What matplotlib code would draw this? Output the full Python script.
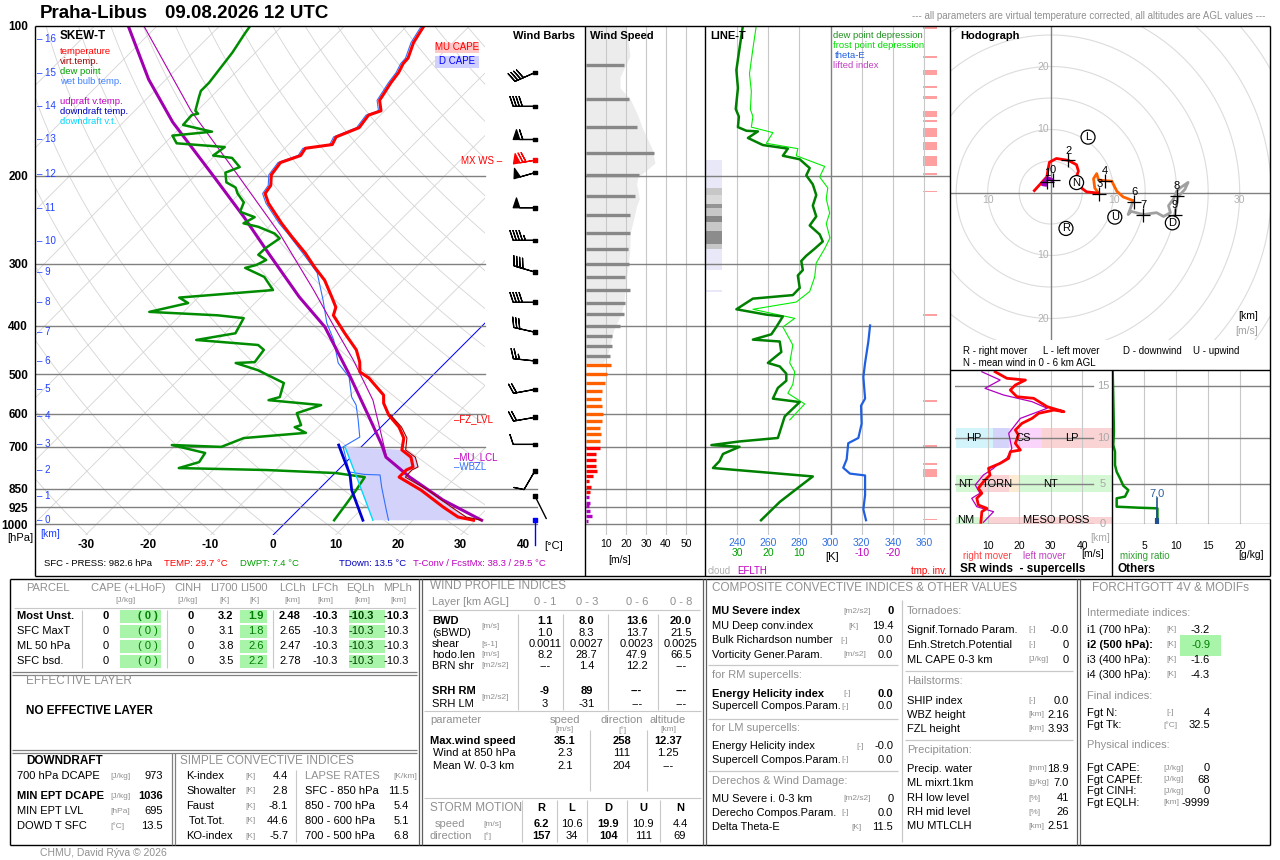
import numpy as np
import matplotlib

matplotlib.use("Agg")
import matplotlib.pyplot as plt
from matplotlib.patches import Rectangle
from matplotlib.ticker import NullLocator

plt.rcParams["font.family"] = ["Liberation Sans", "DejaVu Sans"]

W, H = 1280, 860

# ---------------------------------------------------------------- data
# height above ground [km] -> pressure [hPa]
KM_LEVELS = list(range(17))
KM_PRESS = [982.6, 879, 779, 691, 607, 536, 471, 412, 358, 312, 270, 232, 198, 169, 145, 124, 106]

PRESS_TICKS = [100, 200, 300, 400, 500, 600, 700, 850, 925, 1000]
TEMP_TICKS = [-30, -20, -10, 0, 10, 20, 30, 40]

# environment temperature
TEMP_P = [982.6, 968, 924, 855, 805, 779, 768, 734, 710, 672, 639, 604, 572, 551, 509, 495, 473,
          447, 414, 381, 367, 350, 324, 305, 286, 265, 249, 227, 217, 209, 199, 188, 182, 176,
          173, 167, 160, 151, 148, 141, 130, 124, 119, 116, 108, 100]
TEMP_C = [29.7, 26.7, 22.7, 16.5, 10.9, 10.9, 11.5, 9.6, 7.0, 5.4, 2.9, -0.7, -3.4, -4.7, -9.8,
          -12.2, -13.8, -16.3, -20.8, -25.5, -26.4, -28.7, -32.5, -36.2, -39.9, -44.7, -48.5,
          -53.8, -55.9, -56.3, -57.9, -58.4, -56.3, -56.7, -53.0, -53.6, -51.4, -51.9, -50.6,
          -52.5, -53.5, -53.9, -54.6, -54.7, -56.3, -57.3]

# virtual temperature (lower part, where it separates from T)
VIRT_P = [982.6, 968, 924, 855, 805, 779, 768, 734, 710, 672, 639, 604]
VIRT_C = [31.0, 28.0, 24.0, 17.6, 11.9, 11.8, 12.3, 10.3, 7.6, 5.9, 3.3, -0.4]

# dew point
DEW_P = [982.6, 908, 855, 805, 790, 779, 772, 751, 720, 694, 700, 672, 656, 639, 633, 599, 577,
         564, 556, 521, 491, 475, 473, 447, 437, 427, 414, 386, 381, 375, 360, 351, 339, 319,
         306, 302, 295, 288, 279, 267, 261, 253, 249, 242, 236, 226, 217, 211, 206, 197, 192,
         184, 182, 175, 172, 166, 163, 158, 151, 150, 148, 139, 135, 130, 122, 113, 104, 100]
DEW_C = [7.4, 6.7, 6.1, 5.4, 0.1, -11.5, -25.8, -23.5, -24.0, -30.6, -22.4, -20.2, -11.1, -13.8,
         -13.1, -15.7, -13.1, -22.3, -21.0, -22.6, -28.8, -33.5, -30.6, -31.1, -32.8, -43.5,
         -38.3, -39.4, -44.0, -55.5, -50.7, -53.0, -39.2, -42.7, -47.2, -45.9, -45.1, -47.2,
         -47.1, -46.4, -48.0, -51.7, -54.6, -53.8, -57.0, -57.9, -60.3, -61.6, -63.9, -65.6,
         -64.2, -66.9, -70.3, -69.8, -78.1, -80.0, -74.3, -80.0, -80.2, -79.4, -80.3, -81.9,
         -82.6, -82.6, -83.1, -83.7, -84.7, -85.1]

# wet bulb temperature
WETB_P = [982.6, 937, 843, 797, 795, 786, 700, 669, 618, 577, 556, 507, 475, 427, 395, 355, 313,
          286, 261, 249, 227, 217, 209, 199, 188, 182, 176, 173, 167, 160, 151, 148, 141, 130,
          124, 119, 116, 108, 100]
WETB_C = [16.1, 14.1, 9.7, 7.5, 4.9, 2.1, -2.9, -1.8, -4.8, -7.5, -9.5, -13.1, -17.1, -21.5,
          -25.3, -29.6, -34.9, -40.3, -45.9, -48.9, -54.2, -56.3, -56.7, -58.3, -58.8, -56.7,
          -57.1, -53.4, -54.0, -51.8, -52.3, -51.0, -52.9, -53.9, -54.3, -55.0, -55.1, -56.7,
          -57.7]

# updraft parcel
UP_P = [982.6, 895, 805, 734, 694, 610, 498, 402, 350, 286, 242, 201, 156, 128, 100]
UP_C = [31.0, 21.6, 12.6, 5.6, 3.0, -3.5, -13.8, -25.0, -33.9, -45.8, -55.5, -66.7, -82.1,
        -92.8, -104.6]
UPV_P = [734, 727, 647, 564, 469, 402, 339, 261, 197, 148, 100]
UPV_C = [5.6, 5.3, 0.3, -5.6, -15.1, -23.5, -32.7, -47.2, -63.9, -81.0, -102.1]

# downdraft
DOWN_P = [694, 797, 855, 982.6]
DOWN_C = [-3.9, 2.7, 5.4, 12.0]
DOWNV_P = [700, 827, 982.6]
DOWNV_C = [-2.6, 5.4, 13.6]

# wind barbs (u, v in m/s)
BARB_P = [124, 145, 169, 186, 197, 231.7, 269.4, 312, 358.8, 412, 470.5, 536.5, 610.6, 692,
          781.6, 878.7, 982.6]
BARB_U = [18.3, 20.0, 30.0, 34.5, 24.0, 25.0, 22.5, 19.2, 20.0, 14.6, 12.4, 9.8, 9.8, 5.0, 2.5,
          -0.9, 0.0]
BARB_V = [8.1, 0.0, 0.0, 5.8, 6.9, 0.0, 0.0, -5.7, 0.0, -3.3, -1.3, 1.8, 1.7, 0.0, 4.3, 1.8, 1.0]

# wind speed profile
WS_BAR_P = [119.6, 139.9, 159.6, 180, 199.1, 219.4, 239.6, 259.8, 280, 300, 319.2, 339, 360,
            378.8, 400.4, 419.3, 439, 460.8, 480.4, 500.6, 521, 541.7, 561, 580.5, 601, 622.4,
            641.5, 659.6, 682.5, 702, 722.4, 742.6, 763.5, 782.6, 800.9, 821, 842.8, 864.2,
            884.3, 905.4, 921.8, 943.4, 965.5, 984.9]
WS_BAR_V = [19, 21.5, 25.3, 34, 26.5, 24.5, 22, 22, 21.2, 21.5, 19.5, 22, 19.5, 19, 17, 13, 13,
            12, 12.5, 10.3, 9.5, 7.8, 7.3, 7.8, 8.3, 7.8, 6.8, 7.3, 6.8, 6.8, 4.8, 4.8, 4.8, 5.3,
            3.3, 1.5, 2.5, 2, 1.5, 2, 1.3, 2, 3, 1]
WS_PROF_P = [100, 114.8, 126.6, 133.2, 139.9, 151.6, 159.6, 167.8, 176.3, 188.4, 194.6, 201,
             207.6, 222.2, 229.5, 245.3, 261.6, 280, 299.3, 319.2, 340.6, 364.6, 383, 409,
             451.5, 475]
WS_PROF_V = [20, 22, 17, 17, 22, 26, 28, 30.5, 33, 34.5, 30.3, 26, 25.3, 26.7, 25.3, 23.7, 22,
             22, 21.2, 20.3, 19.5, 18.7, 17, 13.7, 11.2, 8.7]

# LINE-T: dew point / frost point depression [K], theta-E [K]
DD_P = [99.7, 111, 122.6, 133.2, 146.8, 152, 159.6, 162.3, 162.8, 167.8, 173.4, 176.3, 182.2,
        185.2, 192.9, 199.5, 208, 218.5, 229.5, 241.2, 251.5, 262.1, 270.8, 280, 289.3, 296.4,
        309.1, 316.9, 335.7, 347, 352.7, 370.5, 379.8, 383, 402.1, 416, 426.3, 430, 451.5,
        474.8, 482.6, 499, 515.6, 533, 560, 569, 608, 639, 671.7, 682.6, 694.2, 699.8, 723.3,
        747.5, 771.8, 802.5, 846.2, 903, 982.6]
DD_K = [28.1, 29.2, 30.2, 29.7, 30.4, 29.4, 29.7, 27, 23.3, 26.5, 21.7, 13.7, 15.3, 9.9, 6.7,
        7.8, 5.7, 4.6, 5.7, 4.6, 6.7, 3.5, 2.5, 5.1, 7.8, 9.4, 8.9, 10.5, 9.9, 12.1, 24.9, 30.2,
        20.6, 15.3, 17.4, 19, 24.9, 16.3, 15.8, 20.1, 16.3, 14.2, 14.2, 16.9, 18.5, 9.9, 14.7,
        15.8, 16.9, 29.2, 38.2, 29.2, 34.5, 35.6, 37.7, 5.7, 10.5, 16.3, 22.3]
FP_P = [99.7, 111, 124.7, 135.3, 147, 152, 159.6, 163.7, 172, 176.3, 182.2, 191.4, 201, 211.4,
        222.2, 237.4, 249.4, 266.4, 280, 299, 319.2, 341.2, 358.3, 370.5, 386.4, 402.1, 437.1,
        474.8, 494.7, 524.2, 546.3, 574, 618]
FP_K = [23.8, 24.9, 26, 25.4, 25.7, 24.9, 25.4, 18.5, 20.6, 10.5, 11, 1.9, 3.5, 0.9, 1.4, 0.3,
        1.4, 0.2, 1.9, 4.6, 5.1, 6.7, 11, 24.9, 11.5, 15.3, 12.1, 13.1, 11.5, 12.1, 13.7, 8.3,
        13.1]
THE_P = [399.3, 430, 474.8, 506.8, 560, 578.7, 628.7, 671.7, 688.3, 741.6, 771, 792, 798.8,
         874.6, 934.3, 982.6]
THE_K = [325.3, 324.2, 322.1, 321, 322.1, 319.5, 319.9, 317.8, 311.3, 310.3, 308.1, 312.4,
         322.1, 322.1, 321, 322.7]
CLOUD_TOP = [186, 211.5, 218.5, 227.7, 231.5, 241.2, 247.3, 257.8, 274.3, 280, 338.3]
CLOUD_BOT = [211.5, 218.5, 227.7, 231.5, 241.2, 247.3, 257.8, 274.3, 280, 309.2, 342.2]
CLOUD_COVER = [0.05, 0.22, 0.15, 0.42, 0.22, 0.47, 0.22, 0.45, 0.22, 0.05, 0.05]
TINV_TOP = [99.7, 114.8, 122.6, 131.9, 138.2, 148.2, 154.4, 160.2, 171.3, 182.2, 197.3, 214,
            378.8, 564, 694, 754.3, 775.6, 974.9]
TINV_BOT = [101.6, 116, 125.7, 133.2, 139.9, 152.3, 155.8, 167.1, 177.8, 190.9, 198.7, 215.9,
            381.4, 567.6, 700.4, 761.2, 804.7, 981.7]

# hodograph [m/s]
HODO_U_01 = [0.2, -0.5, -1.0, -1.3, -0.7, -0.9]
HODO_V_01 = [2.0, 2.3, 1.7, 1.3, 1.2, 1.9]
HODO_U_13 = [-2.6, -1.6, -0.6, -0.4, -0.2, 0.9, 2.8, 4.1, 4.4, 4.1, 4.9, 5.7, 7.6]
HODO_V_13 = [0.3, 1.4, 2.5, 3.8, 4.8, 5.4, 5.1, 4.4, 3.4, 2.5, 0.7, 0.1, -0.1]
HODO_U_36 = [7.6, 7.0, 6.8, 7.3, 7.6, 8.4, 9.7, 10.5, 11.5, 13.1]
HODO_V_36 = [-0.1, 0.7, 2.2, 3.0, 2.0, 1.9, 1.8, 0.2, -0.7, -1.3]
HODO_U_69 = [13.1, 12.3, 12.8, 14.7, 16.8, 17.9, 19.0, 18.7, 19.5, 20.0, 20.5, 21.8, 21.3, 20.2,
             19.7]
HODO_V_69 = [-1.3, -3.5, -3.0, -3.5, -3.2, -3.8, -3.2, -2.1, -1.0, 0.2, 0.7, 1.6, 0.5, -0.7,
             -3.5]
HODO_MARK_KM = [1, 0, 2, 3, 4, 6, 7, 8, 9]
HODO_MARK_U = [-0.6, 0.3, 2.8, 7.7, 8.6, 13.3, 14.7, 20.0, 19.7]
HODO_MARK_V = [1.6, 2.0, 5.1, -0.25, 1.8, -1.5, -3.5, -0.5, -3.5]

# storm motion (speed m/s, direction deg)
SM_NAMES = ["R", "L", "D", "U", "N"]
SM_SPEED = [6.2, 10.6, 19.9, 10.9, 4.4]
SM_DIR = [157, 34, 104, 111, 69]

# storm-relative winds (supercells)
SR_RM_P = [957.8, 816.7, 776.3, 738.6, 667.8, 618.8, 574, 520, 470.3, 425.3, 394.6, 366, 331.6,
           323.2, 292.2, 258, 239.2, 216.3, 200.7, 186, 177.1, 181.6, 168.5, 148.5, 145, 131.1,
           121.6, 112.8, 109.9, 99.6]
SR_RM_V = [7.9, 8.2, 9.8, 7.1, 6.6, 8.2, 7.1, 8.7, 10.8, 10.3, 14, 16.7, 17.2, 20.4, 18.8, 19.8,
           18.8, 20.9, 24.1, 26.2, 31, 34.2, 28.9, 24.6, 19.3, 17.2, 18.8, 22, 16.1, 12.4]
SR_LM_P = [957.8, 816.7, 757.5, 667.8, 618.8, 546.3, 470.3, 425.3, 404.7, 366, 315.2, 251.4,
           200.7, 172.5, 156.2, 141.3, 127.8, 112.8, 99.6]
SR_LM_V = [8.7, 11.9, 6.6, 5.0, 7.6, 6.1, 8.7, 11.9, 13, 16.1, 17.7, 16.7, 20.4, 28.9, 24.1,
           15.1, 9.2, 14, 8.2]

# mixing ratio [g/kg]
MIX_P = [982.6, 776.3, 768.8, 757.5, 667.8, 651, 590, 552.8, 494.7, 448.2, 404.7, 331.6, 299.5,
         245.4, 148.5, 97]
MIX_G = [7.1, 7.1, 4.1, 0.73, 0.73, 2.03, 2.55, 1.77, 1.25, 0.73, 0.47, 0.47, 0.2, 0.3, 0.2, 0.1]
ML_MIXRT = 7.0

# tables
PARCEL_NAMES = ["Most Unst.", "SFC MaxT", "ML 50 hPa", "SFC bsd."]
PARCEL_CAPE = [0, 0, 0, 0]
PARCEL_CAPE_LHOF = [0, 0, 0, 0]
PARCEL_CINH = [0, 0, 0, 0]
PARCEL_LI700 = [3.2, 3.1, 3.8, 3.5]
PARCEL_LI500 = [1.9, 1.8, 2.6, 2.2]
PARCEL_LCLH = [2.48, 2.65, 2.47, 2.78]
PARCEL_LFCH = [-10.3, -10.3, -10.3, -10.3]
PARCEL_EQLH = [-10.3, -10.3, -10.3, -10.3]
PARCEL_MPLH = [-10.3, -10.3, -10.3, -10.3]

DOWN_NAMES = ["700 hPa DCAPE", "MIN EPT DCAPE", "MIN EPT LVL", "DOWD T SFC"]
DOWN_UNITS = ["[J/kg]", "[J/kg]", "[hPa]", "[°C]"]
DOWN_VALUES = ["973", "1036", "695", "13.5"]

SIMPLE_NAMES = ["K-index", "Showalter", "Faust", " Tot.Tot.", "KO-index"]
SIMPLE_VALUES = [4.4, 2.8, -8.1, 44.6, -5.7]
LAPSE_NAMES = ["SFC - 850 hPa", "850 - 700 hPa", "800 - 600 hPa", "700 - 500 hPa"]
LAPSE_VALUES = [11.5, 5.4, 5.1, 6.8]

WP_LAYERS = ["0 - 1", "0 - 3", "0 - 6", "0 - 8"]
WP_BWD = [1.1, 8.0, 13.6, 20.0]
WP_SBWD = [1.0, 8.3, 13.7, 21.5]
WP_SHEAR = [0.0011, 0.0027, 0.0023, 0.0025]
WP_HODOLEN = [8.2, 28.7, 47.9, 66.5]
WP_BRN = [None, 1.4, 12.2, None]
WP_SRH_RM = [-9, 89, None, None]
WP_SRH_LM = [3, -31, None, None]
WP_MAXWIND = [35.1, 258, 12.37]
WP_W850 = [2.3, 111, 1.25]
WP_MEAN03 = [2.1, 204, None]

COMP_LEFT = [
    ("MU Severe index", "[m2/s2]", "0", True),
    ("MU Deep conv.index", "[K]", "19.4", False),
    ("Bulk Richardson number", "[-]", "0.0", False),
    ("Vorticity Gener.Param.", "[m/s2]", "0.0", False),
    ("for RM supercells:", None, None, False),
    ("Energy Helicity index", "[-]", "0.0", True),
    ("Supercell Compos.Param.", "[-]", "0.0", False),
    ("for LM supercells:", None, None, False),
    ("Energy Helicity index", "[-]", "-0.0", False),
    ("Supercell Compos.Param.", "[-]", "0.0", False),
    ("Derechos & Wind Damage:", None, None, False),
    ("MU Severe i. 0-3 km", "[m2/s2]", "0", False),
    ("Derecho Compos.Param.", "[-]", "0.0", False),
    ("Delta Theta-E", "[K]", "11.5", False),
]
COMP_RIGHT = [
    ("Tornadoes:", None, None),
    ("Signif.Tornado Param.", "[-]", "-0.0"),
    ("Enh.Stretch.Potential", "[-]", "0"),
    ("ML CAPE 0-3 km", "[J/kg]", "0"),
    ("Hailstorms:", None, None),
    ("SHIP index", "[-]", "0.0"),
    ("WBZ height", "[km]", "2.16"),
    ("FZL height", "[km]", "3.93"),
    ("Precipitation:", None, None),
    ("Precip. water", "[mm]", "18.9"),
    ("ML mixrt.1km", "[g/kg]", "7.0"),
    ("RH low level", "[%]", "41"),
    ("RH mid level", "[%]", "26"),
    ("MU MTLCLH", "[km]", "2.51"),
]
FGT_ROWS = [
    ("Intermediate indices:", None, None),
    ("i1 (700 hPa):", "[K]", "-3.2"),
    ("i2 (500 hPa):", "[K]", "-0.9"),
    ("i3 (400 hPa):", "[K]", "-1.6"),
    ("i4 (300 hPa):", "[K]", "-4.3"),
    ("Final indices:", None, None),
    ("Fgt N:", "[-]", "4"),
    ("Fgt Tk:", "[°C]", "32.5"),
    ("Physical indices:", None, None),
    ("Fgt CAPE:", "[J/kg]", "0"),
    ("Fgt CAPEf:", "[J/kg]", "68"),
    ("Fgt CINH:", "[J/kg]", "0"),
    ("Fgt EQLH:", "[km]", "-9999"),
]

# ---------------------------------------------------------------- layout constants
P_BOT, P_TOP = 1052.0, 100.0
SKEW = 34.6
T_LEFT, T_RIGHT, T_GRID = -38.1, 49.9, 33.9
BARB_X = 41.9
GRID_LEVELS = [200, 300, 400, 500, 600, 700, 850, 925, 1000]
GRAY = "#909090"
LIGHT = "#c8c8c8"
DARK = "#808080"


def km_to_p(km):
    return np.exp(np.interp(km, KM_LEVELS, np.log(KM_PRESS)))


def sk(t, p):
    return np.asarray(t, float) + SKEW * np.log(P_BOT / np.asarray(p, float))


fig = plt.figure(figsize=(W / 100, H / 100), dpi=100)
fig.patch.set_facecolor("white")


def px_axes(x0, y0, x1, y1):
    return fig.add_axes([x0 / W, 1 - y1 / H, (x1 - x0) / W, (y1 - y0) / H])


def clean(ax):
    for s in ax.spines.values():
        s.set_visible(False)
    ax.tick_params(which="both", length=0)


def logp(ax, pb, pt):
    ax.set_yscale("log")
    ax.set_ylim(pb, pt)
    ax.yaxis.set_major_locator(NullLocator())
    ax.yaxis.set_minor_locator(NullLocator())


# ---------------------------------------------------------------- skew-T
ax = px_axes(35, 26, 585, 535)
clean(ax)
logp(ax, P_BOT, P_TOP)
ax.set_xlim(T_LEFT, T_RIGHT)
ax.set_yticks(PRESS_TICKS)
ax.set_yticklabels([str(p) for p in PRESS_TICKS], fontsize=8.5, fontweight="bold")
ax.yaxis.set_minor_locator(NullLocator())
ax.set_xticks(TEMP_TICKS)
ax.set_xticklabels([str(t) for t in TEMP_TICKS], fontsize=8.5, fontweight="bold")
ax.tick_params(axis="y", pad=5)
ax.tick_params(axis="x", pad=3)

clip = Rectangle((T_LEFT, P_TOP), T_GRID - T_LEFT, P_BOT - P_TOP, transform=ax.transData)
pp = np.geomspace(P_TOP, P_BOT, 80)
for t0 in range(-120, 31, 10):
    ln, = ax.plot(sk(np.full_like(pp, t0), pp), pp, color="#d4d4d4", lw=0.6)
    ln.set_clip_path(clip)
for th in range(230, 480, 10):
    ln, = ax.plot(sk(th * (pp / 1000.0) ** 0.2857 - 273.15, pp), pp, color="#d4d4d4", lw=0.6)
    ln.set_clip_path(clip)
ln, = ax.plot(sk(np.zeros_like(pp), pp), pp, color="#0000ff", lw=0.7)
ln.set_clip_path(clip)
for p in GRID_LEVELS:
    x_end = T_GRID if p < 800 else 42.2
    ax.plot([T_LEFT, x_end], [p, p], color=DARK, lw=1)

for km, p in zip(KM_LEVELS, KM_PRESS):
    ax.text(0.004, p, f"– {km}", transform=ax.get_yaxis_transform(), color="#2040ff",
            fontsize=7, va="center", ha="left")

# DCAPE area
dx = np.concatenate([sk(DOWNV_C, DOWNV_P), sk(VIRT_C, VIRT_P)[np.array(VIRT_P) >= 700]])
dp = np.concatenate([DOWNV_P, np.array(VIRT_P)[np.array(VIRT_P) >= 700]])
ax.fill(dx, dp, color="#d2d2fa", lw=0, zorder=2)

ax.plot(sk(WETB_C, WETB_P), WETB_P, color="#3070ff", lw=0.8, zorder=3)
ax.plot(sk(UPV_C, UPV_P), UPV_P, color="#b000b0", lw=0.8, zorder=3)
ax.plot(sk(UP_C, UP_P), UP_P, color="#a000b0", lw=2.2, zorder=4)
ax.plot(sk(DEW_C, DEW_P), DEW_P, color="#008c00", lw=1.8, zorder=4)
ax.plot(sk(TEMP_C, TEMP_P), TEMP_P, color="#ff0000", lw=2.2, zorder=4)
ax.plot(sk(VIRT_C, VIRT_P), VIRT_P, color="#a00000", lw=0.8, zorder=5)
ax.plot(sk(DOWNV_C, DOWNV_P), DOWNV_P, color="#00d8ff", lw=1.0, zorder=4)
ax.plot(sk(DOWN_C, DOWN_P), DOWN_P, color="#0000d0", lw=2.0, zorder=4)

# wind barbs
bu = np.array(BARB_U)
bv = np.array(BARB_V)
bp = np.array(BARB_P)
spd = np.hypot(bu, bv)
bcol = ["black"] * len(bp)
bcol[int(np.argmax(spd))] = "red"
bcol[-1] = "blue"
big = np.where(spd >= 2.5)[0]
ax.barbs(np.full(len(big), BARB_X), bp[big], bu[big], bv[big], length=5.6, pivot="tip",
         barb_increments=dict(half=2.5, full=5, flag=25), barbcolor=[bcol[i] for i in big],
         flagcolor=[bcol[i] for i in big], lw=0.9, zorder=6, clip_on=False,
         sizes=dict(spacing=0.14, height=0.45, width=0.3))
for i in np.where(spd < 2.5)[0]:
    L = 25.0
    ddx = -bu[i] / spd[i] * L
    ddy = -bv[i] / spd[i] * L
    ax.plot([BARB_X, BARB_X + ddx / 6.25], [bp[i], bp[i] * np.exp(-ddy / 216.3)],
            color=bcol[i], lw=1.0, zorder=6, clip_on=False)
ax.scatter(np.full(len(bp), BARB_X), bp, marker="s", s=7, c=bcol, zorder=7, clip_on=False)

# ---------------------------------------------------------------- wind speed
aw = px_axes(585, 26, 705, 535)
clean(aw)
logp(aw, P_BOT, P_TOP)
aw.set_xlim(-0.5, 59.5)
aw.fill_betweenx(WS_PROF_P, 0, WS_PROF_V, color="#ececec", lw=0)
for x in (10, 20, 30, 40, 50):
    aw.axvline(x, color=LIGHT, lw=0.8)
for p in GRID_LEVELS:
    aw.axhline(p, color=DARK, lw=1)
ws_cols = []
for p in WS_BAR_P:
    if p > km_to_p(1):
        ws_cols.append("#b000c0")
    elif p > km_to_p(3):
        ws_cols.append("#ff0000")
    elif p > km_to_p(6):
        ws_cols.append("#ff6000")
    else:
        ws_cols.append("#888888")
aw.hlines(WS_BAR_P, 0, WS_BAR_V, colors=ws_cols, lw=2.4, zorder=3)
aw.set_xticks([10, 20, 30, 40, 50])
aw.set_xticklabels(["10", "20", "30", "40", "50"], fontsize=7.5)
aw.tick_params(axis="x", pad=3)

# ---------------------------------------------------------------- LINE-T
LT_LEFT = 240 + (705 - 737) / 1.56
LT_RIGHT = 240 + (950 - 737) / 1.56
al = px_axes(705, 26, 950, 535)
clean(al)
logp(al, P_BOT, P_TOP)
al.set_xlim(LT_LEFT, LT_RIGHT)
for x in (240, 260, 280, 320, 340, 360):
    al.axvline(x, color=LIGHT, lw=0.8)
al.axvline(300, color=DARK, lw=1)
for p in GRID_LEVELS:
    al.axhline(p, color=DARK, lw=1)
for p0, p1, c in zip(CLOUD_TOP, CLOUD_BOT, CLOUD_COVER):
    shade = "#e8e8f8" if c < 0.1 else str(1 - c)
    al.axhspan(p0, p1, xmin=0, xmax=17 / 245, color=shade, lw=0)
for p0, p1 in zip(TINV_TOP, TINV_BOT):
    al.axhspan(p0, p1, xmin=218 / 245, xmax=232 / 245, color="#ffa0a0", lw=0)
al.plot(300 - 2 * np.array(FP_K), FP_P, color="#00ee00", lw=0.8, zorder=3)
al.plot(300 - 2 * np.array(DD_K), DD_P, color="#008000", lw=1.8, zorder=4)
al.plot(THE_K, THE_P, color="#2060e0", lw=1.6, zorder=4)
al.set_xticks([240, 260, 280, 300, 320, 340, 360])
al.set_xticklabels(["240", "260", "280", "300", "320", "340", "360"], fontsize=7.5,
                   color="#3070e0")
al.tick_params(axis="x", pad=2)
for x, s in ((240, "30"), (260, "20"), (280, "10")):
    al.text(x, -0.036, s, transform=al.get_xaxis_transform(), fontsize=7.5, color="#00a000",
            ha="center", va="center")
for x, s in ((320, "-10"), (340, "-20")):
    al.text(x, -0.036, s, transform=al.get_xaxis_transform(), fontsize=7.5, color="#c000c0",
            ha="center", va="center")

# ---------------------------------------------------------------- hodograph
HX0, HY0, HS = 1050.7, 192.5, 6.3
ah = px_axes(950, 26, 1270, 340)
ah.set_xlim((950 - HX0) / HS, (1270 - HX0) / HS)
ah.set_ylim((HY0 - 340) / HS, (HY0 - 26) / HS)
ah.axis("off")
tt = np.linspace(0, 2 * np.pi, 361)
for r in range(5, 50, 5):
    ah.plot(r * np.cos(tt), r * np.sin(tt), color="#dcdcdc", lw=0.8)
ah.axhline(0, color=DARK, lw=1)
ah.axvline(0, color=DARK, lw=1)
for u, v in ((0, 20), (0, 10), (-10, 0), (10, 0), (30, 0), (0, -10), (0, -20)):
    lab = str(abs(u) if u else abs(v))
    ah.text(u - (1.2 if u == 0 else 0), v - (0 if u == 0 else 1.2), lab, color="#b0b0b0",
            fontsize=7.5, ha="center", va="center")
ah.plot(HODO_U_69, HODO_V_69, color="#a0a0a0", lw=2.0)
ah.plot(HODO_U_36, HODO_V_36, color="#ff6000", lw=2.0)
ah.plot(HODO_U_13, HODO_V_13, color="#ff0000", lw=2.0)
ah.plot(HODO_U_01, HODO_V_01, color="#a000c0", lw=2.6)
for km, u, v in zip(HODO_MARK_KM, HODO_MARK_U, HODO_MARK_V):
    ah.plot(u, v, "+", color="black", ms=10, mew=0.9)
    ah.annotate(str(km), (u, v), xytext=(0, 7), textcoords="offset points", ha="center",
                va="center", fontsize=8)
for name, s, d in zip(SM_NAMES, SM_SPEED, SM_DIR):
    ah.text(s * np.sin(np.radians(d)), s * np.cos(np.radians(d)), name, ha="center",
            va="center", fontsize=8,
            bbox=dict(boxstyle="circle,pad=0.18", fc="white", ec="black", lw=0.9))

# ---------------------------------------------------------------- SR winds
SR_TOP = 97.0
asr = px_axes(955, 370, 1112, 524)
clean(asr)
logp(asr, KM_PRESS[0], SR_TOP)
asr.set_xlim(-0.3, 49.4)
bands = [
    (0, 1, [(0, 10, "#d4f8d4", "NM", 3), (10, 50, "#fad4d4", "MESO POSS", 31.8)]),
    (4, 6, [(0, 7.6, "#d4f8d4", "NT", 3), (7.6, 16.9, "#fad4d4", "TORN", 13),
            (16.9, 20, "#fdebd4", "", 0), (20, 50, "#d4f8d4", "NT", 30)]),
    (9, 11, [(0, 11.7, "#d4f4fc", "HP", 5.8), (11.7, 16.9, "#d4d4fa", "", 0),
             (16.9, 27.1, "#fad4fa", "CS", 21.2), (27.1, 50, "#fad4d4", "LP", 36.8)]),
]
for k0, k1, segs in bands:
    pb, pt = km_to_p(k0), km_to_p(k1)
    for x0, x1, c, lab, lx in segs:
        asr.fill_between([x0, x1], pb, pt, color=c, lw=0)
        if lab:
            asr.text(lx, np.sqrt(pb * pt), lab, fontsize=8, ha="center", va="center", zorder=6)
for x in (10, 20, 30, 40):
    asr.axvline(x, color=LIGHT, lw=0.8)
for km in (0, 5, 10, 15):
    asr.plot([-0.3, 43.5], [km_to_p(km)] * 2, color=DARK, lw=1)
    asr.text(46.6, km_to_p(km), str(km), color="#a8a8a8", fontsize=8, ha="center",
             va="center")
asr.plot(SR_LM_V, SR_LM_P, color="#b000c0", lw=0.9, zorder=4)
asr.plot(SR_RM_V, SR_RM_P, color="#ff0000", lw=2.0, zorder=5)
asr.set_xticks([10, 20, 30, 40])
asr.set_xticklabels(["10", "20", "30", "40"], fontsize=7.5)
asr.tick_params(axis="x", pad=12)

# ---------------------------------------------------------------- others
ao = px_axes(1112, 370, 1270, 524)
clean(ao)
logp(ao, KM_PRESS[0], SR_TOP)
ao.set_xlim(0, 24.7)
for x in (5, 10, 15, 20):
    ao.axvline(x, color=LIGHT, lw=0.8)
for km in (0, 5, 10, 15):
    ao.axhline(km_to_p(km), color=DARK, lw=1)
ao.plot(MIX_G, MIX_P, color="#008800", lw=1.8, zorder=4)
ao.plot([ML_MIXRT, ML_MIXRT], [KM_PRESS[0], 668], color="#205090", lw=1.2, zorder=5)
ao.plot([ML_MIXRT, ML_MIXRT], [KM_PRESS[0], km_to_p(0.6)], color="#205090", lw=3, zorder=5)
ao.text(ML_MIXRT, 630, f"{ML_MIXRT:.1f}", color="#3060a0", fontsize=8, ha="center",
        va="center")
ao.set_xticks([5, 10, 15, 20])
ao.set_xticklabels(["5", "10", "15", "20"], fontsize=7.5)
ao.tick_params(axis="x", pad=12)

# ---------------------------------------------------------------- overlay: frames and text
ov = fig.add_axes([0, 0, 1, 1], zorder=10)
ov.set_xlim(0, W)
ov.set_ylim(H, 0)
ov.axis("off")
ov.patch.set_alpha(0)


def t(x, y, s, size=8, color="black", bold=False, ha="left"):
    ov.text(x, y, s, fontsize=size, color=color, fontweight="bold" if bold else "normal",
            ha=ha, va="center", zorder=3)


def hl(x0, x1, y, color="black", lw=1.0):
    ov.plot([x0, x1], [y, y], color=color, lw=lw, zorder=2, solid_capstyle="butt")


def vl(x, y0, y1, color="black", lw=1.0):
    ov.plot([x, x], [y0, y1], color=color, lw=lw, zorder=2, solid_capstyle="butt")


def fbox(x0, y0, x1, y1, color):
    ov.add_patch(Rectangle((x0, y0), x1 - x0, y1 - y0, facecolor=color, edgecolor="none",
                           zorder=1))


def unit(x, y, s, ha="left"):
    t(x, y, s, 6.0, GRAY, ha=ha)


# upper frames
hl(35, 1270, 26)
for x in (35, 585, 705, 950, 1270):
    vl(x, 26, 576)
hl(950, 1270, 370)
vl(1112, 370, 576)
hl(35, 1270, 576)

# header
t(40, 13, "Praha-Libus", 13.5, bold=True)
t(165, 13, "09.08.2026 12 UTC", 13.5, bold=True)
t(1265, 16, "--- all parameters are virtual temperature corrected, all altitudes are AGL values ---",
  7, GRAY, ha="right")

# skew-T labels
t(60, 36, "SKEW-T", 8.5, bold=True)
for y, s, c in ((51, "temperature", "#ff0000"), (61, "virt.temp.", "#a00000"),
                (71, "dew point", "#00a000"), (81, "wet bulb temp.", "#4080ff"),
                (101, "udpraft v.temp.", "#c000c0"), (111, "downdraft temp.", "#0000c0"),
                (121, "downdraft v.t.", "#00d8ff")):
    t(60, y, s, 6.8, c)
fbox(435, 42.5, 479, 53, "#ffc8c8")
t(457, 47.5, "MU CAPE", 7, "#ff0000", ha="center")
fbox(435, 55.5, 479, 67.5, "#d0d0ff")
t(457, 61.5, "D CAPE", 7, "#0000ff", ha="center")
t(461, 160.5, "MX WS –", 7, "#ff0000")
t(454, 419, "–FZ_LVL", 7, "#ff0000")
t(454, 457, "–MU_LCL", 7, "#c000c0")
t(454, 467, "–WBZL", 7, "#3070ff")
t(513, 36, "Wind Barbs", 8, bold=True)
t(7, 538, "[hPa]", 8)
t(40, 534, "[km]", 7.5, "#2040ff")
t(544, 546, "[°C]", 8)
t(44, 563.5, "SFC - PRESS: 982.6 hPa", 6.8)
t(164, 563.5, "TEMP: 29.7 °C", 6.8, "#ff0000")
t(240, 563.5, "DWPT: 7.4 °C", 6.8, "#00a000")
t(339, 563.5, "TDown: 13.5 °C", 6.8, "#0000c0")
t(413, 563.5, "T-Conv / FcstMx: 38.3 / 29.5 °C", 6.8, "#c000c0")

# wind speed / LINE-T labels
t(590, 36, "Wind Speed", 8, bold=True)
t(620, 560, "[m/s]", 7.5, ha="center")
t(710, 36, "LINE-T", 8, bold=True)
t(833, 36, "dew point depression", 6.8, "#209020")
t(833, 46, "frost point depression", 6.8, "#00dd00")
t(835, 55.5, "theta-E", 6.8, "#2060e0")
t(833, 65.5, "lifted index", 6.8, "#c040c0")
t(832, 557, "[K]", 8, ha="center")
t(708, 571, "cloud", 7, "#b0b0b0")
t(737, 571, "EFLTH", 7, "#c000c0")
t(947, 571, "tmp. inv.", 7, "#ff0000", ha="right")

# hodograph labels
t(960, 36, "Hodograph", 8, bold=True)
t(1258, 316, "[km]", 7.5, ha="right")
t(1258, 331, "[m/s]", 7.5, "#a0a0a0", ha="right")
t(963, 350.5, "R - right mover", 7)
t(1043, 350.5, "L - left mover", 7)
t(1123, 350.5, "D - downwind", 7)
t(1193, 350.5, "U - upwind", 7)
t(963, 363, "N - mean wind in 0 - 6 km AGL", 7)

# SR / others labels
t(1100, 538, "[km]", 7.5, "#a8a8a8", ha="center")
t(1093, 554, "[m/s]", 7.5, ha="center")
t(963, 556, "right mover", 7, "#ff4040")
t(1023, 556, "left mover", 7, "#c040c0")
t(960, 569, "SR winds  - supercells", 8.5, bold=True)
t(1117, 569, "Others", 8.5, bold=True)
t(1120, 556, "mixing ratio", 7, "#30a030")
t(1264, 555, "[g/kg]", 7.5, ha="right")

# ---------------------------------------------------------------- bottom tables
hl(10, 1270, 579)
hl(10, 1270, 845)
vl(10, 579, 845)
vl(1270, 579, 845)
for x in (418.5, 421.5, 703, 706, 1077, 1080):
    vl(x, 579, 845, "#606060", 0.9)

# PARCEL
t(26, 588, "PARCEL", 8, GRAY)
cols = [("CAPE (+LHoF)", 128, "[J/kg]", 125), ("CINH", 188, "[J/kg]", 188),
        ("LI700", 224, "[K]", 224), ("LI500", 254, "[K]", 254), ("LCLh", 292, "[km]", 292),
        ("LFCh", 325, "[km]", 325), ("EQLh", 360, "[km]", 362), ("MPLh", 398, "[km]", 398)]
for lab, xc, u, xu in cols:
    t(xc, 588, lab, 8, GRAY, ha="center")
    unit(xu, 600, u, ha="center")
hl(14, 416, 608, LIGHT, 0.8)
for x in (81.7, 166.7, 273.3):
    vl(x, 610, 668, LIGHT, 0.8)
for i, name in enumerate(PARCEL_NAMES):
    y = 616.3 + 15 * i
    b = i == 0
    fbox(120, y - 6.7, 161, y + 6.7, "#a8f4a8")
    fbox(240, y - 6.7, 266.7, y + 6.7, "#a8f4a8")
    fbox(349.3, y - 6.7, 385, y + 6.7, "#a8f4a8")
    t(17, y, name, 8, bold=b)
    t(106, y, f"{PARCEL_CAPE[i]}", 8, bold=b, ha="center")
    t(158, y, f"( {PARCEL_CAPE_LHOF[i]} )", 8, "#008000", bold=b, ha="right")
    t(190.5, y, f"{PARCEL_CINH[i]}", 8, bold=b, ha="center")
    t(226, y, f"{PARCEL_LI700[i]:.1f}", 8, bold=b, ha="center")
    t(256, y, f"{PARCEL_LI500[i]:.1f}", 8, "#008000", bold=b, ha="center")
    t(290, y, f"{PARCEL_LCLH[i]:.2f}", 8, bold=b, ha="center")
    t(325, y, f"{PARCEL_LFCH[i]:.1f}", 8, bold=b, ha="center")
    t(361.5, y, f"{PARCEL_EQLH[i]:.1f}", 8, "#004000", bold=b, ha="center")
    t(396.5, y, f"{PARCEL_MPLH[i]:.1f}", 8, bold=b, ha="center")

for y in (672, 675, 750, 753):
    hl(12, 417, y, "#808080", 0.9)
t(26, 681, "EFFECTIVE LAYER", 8.5, GRAY)
t(26, 711, "NO EFFECTIVE LAYER", 8.5, bold=True)

t(26, 761, "DOWNDRAFT", 8.5, bold=True)
for i, (name, u, v) in enumerate(zip(DOWN_NAMES, DOWN_UNITS, DOWN_VALUES)):
    y = [776.3, 796.3, 811.3, 826.3][i]
    b = i == 1
    t(17, y, name, 8, bold=b)
    unit(110, y, u)
    t(163, y, v, 8, bold=b, ha="right")
for x in (172, 175):
    vl(x, 753, 845, "#808080", 0.9)

t(180, 761, "SIMPLE CONVECTIVE INDICES", 8.5, GRAY)
for i, (name, v) in enumerate(zip(SIMPLE_NAMES, SIMPLE_VALUES)):
    y = 776 + 15 * i
    t(186, y, name, 8)
    unit(245, y, "[K]")
    t(288, y, f"{v:.1f}", 8, ha="right")
vl(296, 770, 842, LIGHT, 0.8)
t(305, 776, "LAPSE RATES", 8, GRAY)
unit(393, 776, "[K/km]")
for i, (name, v) in enumerate(zip(LAPSE_NAMES, LAPSE_VALUES)):
    y = 791 + 15 * i
    t(305, y, name, 8)
    t(409, y, f"{v:.1f}", 8, ha="right")

# WIND PROFILE
WPX = [545, 586.7, 636.7, 681]


def fmt(v, f):
    return "---" if v is None else f.format(v)


t(430, 586.3, "WIND PROFILE INDICES", 8.5, GRAY)
t(431.7, 602.3, "Layer [km AGL]", 8, GRAY)
for x, s in zip(WPX, WP_LAYERS):
    t(x, 602.3, s, 8, GRAY, ha="center")
hl(428, 700, 609.7, LIGHT, 0.8)
for x in (518.3, 563.3, 608.3, 658.3):
    vl(x, 614, 710, LIGHT, 0.8)
wp_rows = [("BWD", WP_BWD, "{:.1f}", 621.3, True), ("(sBWD)", WP_SBWD, "{:.1f}", 633.3, False),
           ("shear", WP_SHEAR, "{:.4f}", 644, False), ("hodo.len", WP_HODOLEN, "{:.1f}", 654.7, False),
           ("BRN shr", WP_BRN, "{:.1f}", 665.7, False), ("SRH RM", WP_SRH_RM, "{:d}", 691.3, True),
           ("SRH LM", WP_SRH_LM, "{:d}", 704, False)]
for name, vals, f, y, b in wp_rows:
    t(432, y, name, 8, bold=b)
    for x, v in zip(WPX, vals):
        t(x, y, fmt(v, f), 8, bold=b, ha="center")
unit(481, 626.3, "[m/s]")
unit(481, 644, "[s-1]")
unit(481, 654.7, "[m/s]")
unit(481, 665.7, "[m2/s2]")
unit(481, 697.5, "[m2/s2]")
hl(424, 701, 710.7, LIGHT, 0.8)
t(430, 719.7, "parameter", 8, GRAY)
for x, s, u in ((565, "speed", "[m/s]"), (622, "direction", "[°]"), (668, "altitude", "[km]")):
    t(x, 719.7, s, 8, GRAY, ha="center")
    unit(x, 729.7, u, ha="center")
for x in (590, 646.7):
    vl(x, 730, 791, LIGHT, 0.8)
for (name, vals, y, b, x0) in (("Max.wind speed", WP_MAXWIND, 740.7, True, 430),
                               ("Wind at 850 hPa", WP_W850, 753, False, 433),
                               ("Mean W. 0-3 km", WP_MEAN03, 765.7, False, 433)):
    t(x0, y, name, 8, bold=b)
    t(565, y, fmt(vals[0], "{:.1f}"), 8, bold=b, ha="center")
    t(622, y, fmt(vals[1], "{:d}"), 8, bold=b, ha="center")
    t(668, y, fmt(vals[2], "{:.2f}"), 8, bold=b, ha="center")
hl(424, 701, 798, LIGHT, 0.8)
SMX = [541.7, 571.7, 608.3, 643.3, 680]
t(430, 808, "STORM MOTION", 8.5, GRAY)
t(435, 824, "speed", 8, GRAY)
unit(483, 824, "[m/s]")
t(430, 836.3, "direction", 8, GRAY)
unit(483, 836.3, "[°]")
for x in (521.7, 556.7, 586.7, 626.7, 660):
    vl(x, 800, 842, LIGHT, 0.8)
for x, n, s, d in zip(SMX, SM_NAMES, SM_SPEED, SM_DIR):
    b = n in ("R", "D")
    t(x, 808, n, 8, bold=True, ha="center")
    t(x, 824, f"{s:.1f}", 8, bold=b, ha="center")
    t(x, 836.3, f"{d}", 8, bold=b, ha="center")

# COMPOSITE
t(711.7, 588, "COMPOSITE CONVECTIVE INDICES & OTHER VALUES", 8.5, GRAY)
vl(901.7, 600, 842, LIGHT, 0.9)
left_y = [611.3, 626.3, 640.3, 654.7, 674.7, 693.7, 706.3, 728, 746.3, 759.7, 780.7, 798.7,
          813, 827.3]
left_ux = [843.3, 848.3, 840, 843.3, 0, 843, 841, 0, 856, 841, 0, 843.3, 841, 851.7]
for (name, u, v, b), y, ux in zip(COMP_LEFT, left_y, left_ux):
    if u is None:
        t(711.7, y, name, 8, GRAY)
        continue
    t(711.7, y, name, 7.9, bold=b)
    unit(ux, y, u)
    t(893.3, y, v, 8, bold=b, ha="right")
for y in (665.3, 718.7, 771.3):
    hl(708, 898, y, LIGHT, 0.9)
right_y = [611.3, 629.7, 644.7, 659.7, 681.3, 700.7, 714.7, 728.7, 749.7, 768.7, 783, 798,
           812.3, 826.3]
for (name, u, v), y in zip(COMP_RIGHT, right_y):
    if u is None:
        t(906.7, y, name, 8, GRAY)
        continue
    t(906.7, y, name, 8)
    unit(1028, y, u)
    t(1069, y, v, 8, ha="right")
for y in (671.3, 740.3):
    hl(905, 1073, y, LIGHT, 0.9)

# FORCHTGOTT
t(1091.7, 588, "FORCHTGOTT 4V & MODIFs", 8.5, GRAY)
fgt_y = [613, 629.7, 644.7, 659.7, 674.7, 696.3, 713, 724.7, 744.7, 768, 779.7, 791.3, 803]
fbox(1180, 635.3, 1221, 655.7, "#a8f4a8")
for (name, u, v), y in zip(FGT_ROWS, fgt_y):
    if u is None:
        t(1086.7, y, name, 8, GRAY)
        continue
    b = name.startswith("i2")
    t(1086.7, y, name, 8, bold=b)
    unit(1166 if len(u) < 4 else 1163, y, u)
    t(1210, y, v, 8, "#008000" if b else "black", ha="right")

t(40, 853, "CHMU, David Rýva © 2026", 7.5, GRAY)

fig.savefig("out.png", dpi=100)
